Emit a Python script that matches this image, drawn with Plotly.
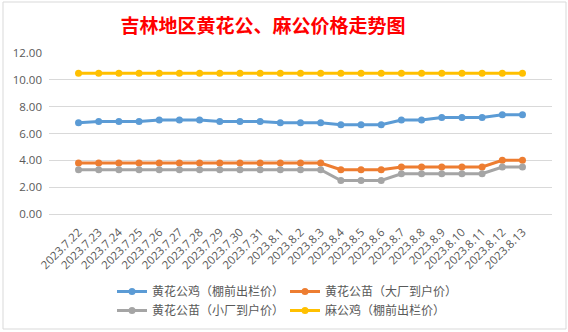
import plotly.graph_objects as go

dates = ["2023.7.22", "2023.7.23", "2023.7.24", "2023.7.25", "2023.7.26", "2023.7.27",
         "2023.7.28", "2023.7.29", "2023.7.30", "2023.7.31", "2023.8.1", "2023.8.2",
         "2023.8.3", "2023.8.4", "2023.8.5", "2023.8.6", "2023.8.7", "2023.8.8",
         "2023.8.9", "2023.8.10", "2023.8.11", "2023.8.12", "2023.8.13"]

huang_ji = [6.8, 6.9, 6.9, 6.9, 7.0, 7.0, 7.0, 6.9, 6.9, 6.9, 6.8, 6.8,
            6.8, 6.65, 6.65, 6.65, 7.0, 7.0, 7.2, 7.2, 7.2, 7.4, 7.4]
huang_miao_da = [3.8, 3.8, 3.8, 3.8, 3.8, 3.8, 3.8, 3.8, 3.8, 3.8, 3.8, 3.8,
                 3.8, 3.3, 3.3, 3.3, 3.5, 3.5, 3.5, 3.5, 3.5, 4.0, 4.0]
huang_miao_xiao = [3.3, 3.3, 3.3, 3.3, 3.3, 3.3, 3.3, 3.3, 3.3, 3.3, 3.3, 3.3,
                   3.3, 2.5, 2.5, 2.5, 3.0, 3.0, 3.0, 3.0, 3.0, 3.5, 3.5]
ma_ji = [10.5] * 23

names = ["黄花公鸡（棚前出栏价）", "黄花公苗（大厂到户价）",
         "黄花公苗（小厂到户价）", "麻公鸡（棚前出栏价）"]
colors = ["#5B9BD5", "#ED7D31", "#A5A5A5", "#FFC000"]
series = [huang_ji, huang_miao_da, huang_miao_xiao, ma_ji]
y_ticks = [0, 2, 4, 6, 8, 10, 12]

fig = go.Figure()
for name, color, vals in zip(names, colors, series):
    fig.add_trace(go.Scatter(
        x=dates, y=vals, name=name, mode="lines+markers",
        line=dict(color=color, width=3),
        marker=dict(color=color, size=7),
    ))

fig.update_layout(
    width=568, height=332,
    margin=dict(l=49, r=16, t=53, b=118, autoexpand=False),
    paper_bgcolor="white", plot_bgcolor="white",
    font=dict(family="Noto Sans CJK SC", color="#595959"),
    title=dict(text="<b>吉林地区黄花公、麻公价格走势图</b>",
               font=dict(family="Noto Sans CJK SC", size=19, color="#FF0000"),
               x=0.463, xanchor="center", y=1 - 26 / 332, yanchor="middle"),
    showlegend=True,
    legend=dict(orientation="h", x=(112 - 49) / 503, xanchor="left",
                y=-(277 - 214) / 161, yanchor="top",
                entrywidth=128, entrywidthmode="pixels", itemwidth=30,
                font=dict(size=12, color="#595959"), tracegroupgap=0,
                bgcolor="rgba(0,0,0,0)"),
    shapes=[dict(type="rect", xref="paper", yref="paper",
                 x0=-46 / 503, x1=(566 - 49) / 503,
                 y0=-(329 - 214) / 161, y1=(214 - 2) / 161,
                 line=dict(color="#D9D9D9", width=1), layer="below")],
)
fig.update_xaxes(type="category", tickangle=-45, showgrid=False, showline=True,
                 linecolor="#D9D9D9", linewidth=1, ticks="",
                 tickfont=dict(size=11.5, family="Open Sans", color="#595959"),
                 ticklabelstandoff=6, automargin=False)
fig.update_yaxes(range=[0, 12], tickvals=y_ticks,
                 ticktext=[f"{v:.2f}" for v in y_ticks],
                 showgrid=True, gridcolor="#D9D9D9", gridwidth=1,
                 zeroline=False, showline=False,
                 tickfont=dict(size=11.5, family="Open Sans", color="#595959"),
                 ticklabelstandoff=6, automargin=False)

fig.write_html("out.html")
